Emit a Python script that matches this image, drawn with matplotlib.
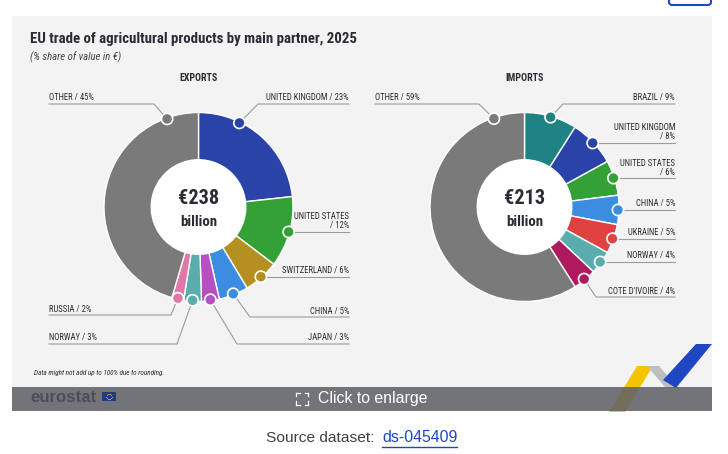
import numpy as np
import matplotlib
matplotlib.use('Agg')
import matplotlib.pyplot as plt
from matplotlib import font_manager as fm
from matplotlib.patches import Rectangle, Circle, Polygon, FancyBboxPatch

# ── Data ──────────────────────────────────────────────────────────────────────
exp_labels = ['UNITED KINGDOM', 'UNITED STATES', 'SWITZERLAND', 'CHINA',
              'JAPAN', 'NORWAY', 'RUSSIA', 'OTHER']
exp_shares = [23, 12, 6, 5, 3, 3, 2, 45]
exp_total = 238

imp_labels = ['BRAZIL', 'UNITED KINGDOM', 'UNITED STATES', 'CHINA',
              'UKRAINE', 'NORWAY', "COTE D'IVOIRE", 'OTHER']
imp_shares = [9, 8, 6, 5, 5, 4, 4, 59]
imp_total = 213

title = 'EU trade of agricultural products by main partner, 2025'
subtitle = '(% share of value in €)'
note = 'Data might not add up to 100% due to rounding.'

# ── Style ─────────────────────────────────────────────────────────────────────
W, H = 728, 454
PANEL = '#f3f3f3'
LINE = '#9c9c9c'
TXT = '#2b2b33'
COL = {
    'UNITED KINGDOM': '#2a43a8', 'UNITED STATES': '#33a135',
    'SWITZERLAND': '#b39020', 'CHINA': '#3a8de0', 'JAPAN': '#b64fc2',
    'NORWAY': '#5aadad', 'RUSSIA': '#de78a8', 'OTHER': '#7a7a7a',
    'BRAZIL': '#1f8383', 'UKRAINE': '#e04242', "COTE D'IVOIRE": '#b0195e',
}


def have(name):
    try:
        fm.findfont(fm.FontProperties(family=name), fallback_to_default=False)
        return True
    except ValueError:
        return False


NARROW = next((f for f in ['Roboto Condensed', 'Liberation Sans Narrow',
                           'Open Sans Condensed', 'Liberation Sans'] if have(f)),
              'DejaVu Sans')
SANS = 'Liberation Sans' if have('Liberation Sans') else 'DejaVu Sans'

# label layout: name -> (side, line_y or None, elbow_x or None, two_lines)
exp_layout = {
    'UNITED KINGDOM': ('R', 104, 258, False),
    'UNITED STATES': ('R', None, None, True),
    'SWITZERLAND': ('R', None, None, False),
    'CHINA': ('R', 317, 250, False),
    'JAPAN': ('R', 344, 237, False),
    'NORWAY': ('L', 344, 177, False),
    'RUSSIA': ('L', 315, 171, False),
    'OTHER': ('L', 104, 154, False),
}
imp_layout = {
    'BRAZIL': ('R', 104, 563, False),
    'UNITED KINGDOM': ('R', None, None, True),
    'UNITED STATES': ('R', None, None, True),
    'CHINA': ('R', None, None, False),
    'UKRAINE': ('R', None, None, False),
    'NORWAY': ('R', None, None, False),
    "COTE D'IVOIRE": ('R', 297, 596, False),
    'OTHER': ('L', 104, 479, False),
}
exp_dotfrac = {'UNITED KINGDOM': 0.31, 'OTHER': 0.88}
imp_dotfrac = {'OTHER': 0.91}

fig = plt.figure(figsize=(W / 100, H / 100), dpi=100, facecolor='white')
ax = fig.add_axes([0, 0, 1, 1])
ax.set_xlim(0, W)
ax.set_ylim(H, 0)
renderer = fig.canvas.get_renderer()


def fit(t, width):
    # scale font so the text spans the width measured on the reference
    w = t.get_window_extent(renderer).width
    t.set_fontsize(t.get_fontsize() * width / w)
    return t


probe = ax.text(0, 0, 'UNITED KINGDOM / 23%', fontsize=7, family=NARROW)
LABEL_FS = fit(probe, 84).get_fontsize()
probe.remove()


def donut(labels, shares, total, cx, cy, heading, layout, dotfrac, xl, xr):
    R = 94.5
    colors = [COL[l] for l in labels]
    ax.pie(shares, colors=colors, center=(cx, cy), radius=R, startangle=-90,
           counterclock=True,
           wedgeprops=dict(width=R * 0.5, edgecolor='white', linewidth=1.0))
    ax.add_patch(Circle((cx, cy), R * 0.5, facecolor='white', edgecolor='none', zorder=2))
    fit(ax.text(cx, cy - 8, f'€{total}', ha='center', va='center', fontsize=14,
                fontweight='bold', color=TXT, family=NARROW, zorder=3), 41)
    fit(ax.text(cx, cy + 15, 'billion', ha='center', va='center', fontsize=13,
                fontweight='bold', color=TXT, family=NARROW, zorder=3), 37)
    fit(ax.text(cx, 78, heading, ha='center', va='center', fontsize=7.5,
                fontweight='bold', color=TXT, family=NARROW), 38)

    tot = float(sum(shares))
    start = 0.0
    for lab, v in zip(labels, shares):
        f = dotfrac.get(lab, 0.5)
        frac = (start + f * v) / tot
        start += v
        ang = np.deg2rad(-90 + 360 * frac)
        dx, dy = cx + (R - 1) * np.cos(ang), cy + (R - 1) * np.sin(ang)
        ax.add_patch(Circle((dx, dy), 5.6, facecolor=COL[lab], edgecolor='white',
                            linewidth=1.2, zorder=5))
        side, ly, ex, two = layout[lab]
        if ly is None:
            ly, ex = dy, dx
        end = xr if side == 'R' else xl
        ax.plot([dx, ex, end], [dy, ly, ly], color=LINE, lw=0.8, zorder=1)
        txt = f'{lab}\n/ {v}%' if two else f'{lab} / {v}%'
        ax.text(end, ly - 1.5, txt, ha='right' if side == 'R' else 'left',
                va='bottom', fontsize=LABEL_FS, color=TXT, family=NARROW,
                linespacing=1.0, multialignment='right')


# ── Background panel ──────────────────────────────────────────────────────────
ax.add_patch(Rectangle((12, 16), 700, 395, facecolor=PANEL, edgecolor='none', zorder=0))
ax.add_patch(FancyBboxPatch((669, -10), 42, 15, boxstyle='round,pad=0,rounding_size=3',
                            facecolor='white', edgecolor='#1a47c8', linewidth=1.5))

fit(ax.text(30, 39, title, ha='left', va='center', fontsize=10, fontweight='bold',
            color=TXT, family=NARROW), 327)
fit(ax.text(30, 57, subtitle, ha='left', va='center', fontsize=6, style='italic',
            color='#444444', family=NARROW), 91)

donut(exp_labels, exp_shares, exp_total, 198.5, 207, 'EXPORTS', exp_layout, exp_dotfrac, 49, 349)
donut(imp_labels, imp_shares, imp_total, 524.5, 207, 'IMPORTS', imp_layout, imp_dotfrac, 375, 675)

fit(ax.text(34, 373, note, ha='left', va='center', fontsize=4.6, style='italic',
            color=TXT, family=NARROW), 131)

# decorative ribbons
ax.add_patch(Polygon([(637, 366), (653, 366), (625, 412), (609, 412)],
                     facecolor='#f5c400', edgecolor='none', zorder=3))
ax.add_patch(Polygon([(647, 366), (659, 366), (678, 388), (666, 388)],
                     facecolor='#bdbec0', edgecolor='none', zorder=3))
ax.add_patch(Polygon([(696, 344), (712, 344), (676, 388), (663, 380)],
                     facecolor='#1f47c4', edgecolor='none', zorder=3))

# overlay bar
ax.add_patch(Rectangle((12, 387), 700, 24, facecolor='#606268', alpha=0.88,
                       edgecolor='none', zorder=4))
fit(ax.text(30, 397, 'eurostat', ha='left', va='center', fontsize=10, fontweight='bold',
            color='#4b4e55', family=SANS, zorder=5), 66)
ax.add_patch(Rectangle((102, 392), 14, 9, facecolor='#223b86', edgecolor='none', zorder=5))
stars = np.linspace(0, 2 * np.pi, 12, endpoint=False)
ax.scatter(109 + 2.8 * np.cos(stars), 396.5 + 2.8 * np.sin(stars), s=0.4,
           color='#c9b43a', zorder=6, linewidths=0)
fit(ax.text(318, 398.5, 'Click to enlarge', ha='left', va='center', fontsize=12,
            color='white', family=SANS, zorder=5), 110)
for sx, sy in [(-1, -1), (1, -1), (-1, 1), (1, 1)]:
    bx, by = 302 + sx * 6, 398.5 + sy * 6
    ax.plot([bx, bx - sx * 3.5], [by, by], color='white', lw=0.9, zorder=5)
    ax.plot([bx, bx], [by, by - sy * 3.5], color='white', lw=0.9, zorder=5)

fit(ax.text(266, 438, 'Source dataset:', ha='left', va='center', fontsize=11,
            color='#404040', family=SANS), 108)
fit(ax.text(382, 438, 'ds-045409', ha='left', va='center', fontsize=11,
            color='#1a47c8', family=SANS), 75)
ax.plot([382, 457], [447, 447], color='#1a47c8', lw=1)

ax.set_xlim(0, W)
ax.set_ylim(H, 0)
ax.set_aspect('equal')
ax.set_axis_off()

fig.savefig('out.png', dpi=100, facecolor='white')
